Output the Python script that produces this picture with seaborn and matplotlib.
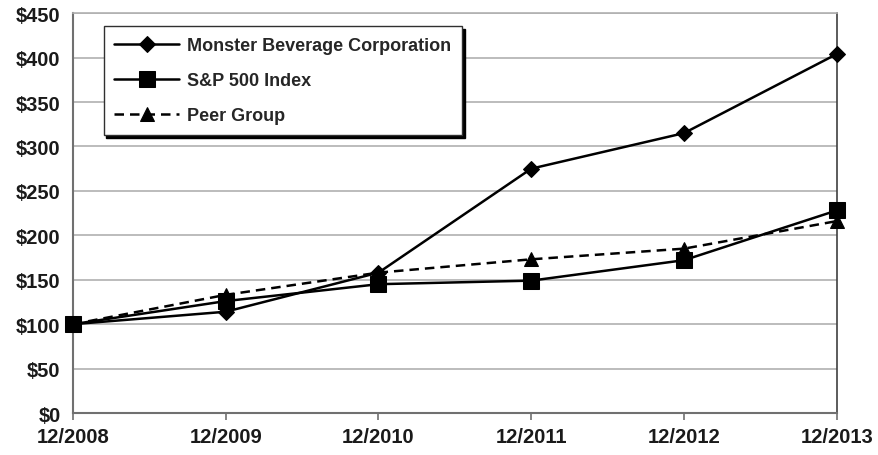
import matplotlib
matplotlib.use("Agg")
import matplotlib.pyplot as plt
import seaborn as sns
import pandas as pd
from matplotlib.ticker import FuncFormatter

years = ["12/2008", "12/2009", "12/2010", "12/2011", "12/2012", "12/2013"]
monster = [100, 114, 158, 275, 315, 404]
sp500 = [100, 126, 145, 149, 172, 228]
peer = [100, 133, 158, 173, 185, 216]
series_names = ["Monster Beverage Corporation", "S&P 500 Index", "Peer Group"]

sns.set_theme(style="white")
plt.rcParams['font.family'] = ['Liberation Sans', 'DejaVu Sans']
plt.rcParams['font.weight'] = 'bold'

rows = []
for name, vals in zip(series_names, [monster, sp500, peer]):
    for i, v in enumerate(vals):
        rows.append({"x": i, "value": v, "series": name})
df = pd.DataFrame(rows)

fig = plt.figure(figsize=(8.79, 4.56), dpi=100)
ax = fig.add_axes([0.083, 0.092, 0.869, 0.877])

markers = {series_names[0]: "D", series_names[1]: "s", series_names[2]: "^"}
dashes = {series_names[0]: "", series_names[1]: "", series_names[2]: (3.8, 2.4)}
palette = {n: "black" for n in series_names}

sns.lineplot(data=df, x="x", y="value", hue="series", style="series",
             markers=markers, dashes=dashes, palette=palette, ax=ax,
             linewidth=1.8, markersize=9, markeredgecolor="black",
             legend=True)

sizes = {"s": 11, "D": 8, "^": 10}

for line in ax.get_lines():
    m = line.get_marker()
    if m in sizes:
        line.set_markersize(sizes[m])
    line.set_clip_on(False)
    line.set_zorder(5)

ax.set_xlim(0, 5)
ax.set_ylim(0, 450)
ax.set_xticks(range(len(years)))
ax.set_xticklabels(years)
ax.set_yticks(range(0, 451, 50))
ax.yaxis.set_major_formatter(FuncFormatter(lambda v, p: f"${int(v)}"))
ax.set_xlabel("")
ax.set_ylabel("")
ax.grid(axis="y", color="#b0b0b0", linewidth=1.2)
ax.set_axisbelow(True)
for s in ["left", "bottom"]:
    ax.spines[s].set_color("#707070")
    ax.spines[s].set_linewidth(1.5)
ax.spines["right"].set_color("#404040")
ax.spines["right"].set_linewidth(1.2)
ax.spines["top"].set_color("#b0b0b0")
ax.spines["top"].set_linewidth(1.2)
ax.tick_params(axis="x", direction="out", length=5, width=1.2, color="#707070",
               labelsize=14.5, pad=5, bottom=True)
ax.tick_params(axis="y", length=0, labelsize=14.5, pad=9)
for lab in ax.get_xticklabels() + ax.get_yticklabels():
    lab.set_fontweight("bold")
    lab.set_color("#1a1a1a")

handles, labels = ax.get_legend_handles_labels()
for h in handles:
    m = h.get_marker()
    if m in sizes:
        h.set_markersize(sizes[m])
leg = ax.legend(handles, labels, loc="upper left", bbox_to_anchor=(0.04, 0.967),
                frameon=True, fancybox=False,
                shadow={"color": "black", "alpha": 1.0}, handlelength=3.6,
                prop={"weight": "bold", "size": 13}, borderpad=0.6,
                labelspacing=1.0, handletextpad=0.45, borderaxespad=0)
leg.get_frame().set_edgecolor("#303030")
leg.get_frame().set_linewidth(1.0)
leg.set_zorder(10)

fig.savefig("out.png", dpi=100)
